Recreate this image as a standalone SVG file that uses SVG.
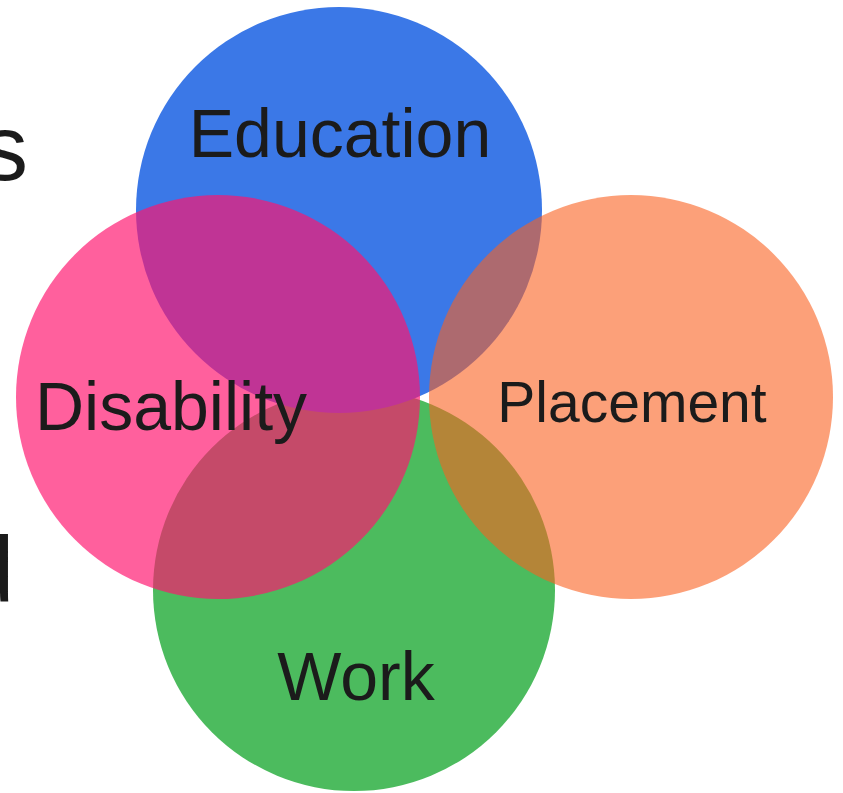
<svg xmlns="http://www.w3.org/2000/svg" width="843" height="793" viewBox="0 0 843 793">
  <style>
    .lbl { font-family: "Liberation Sans", Arial, sans-serif; fill: #1b1b1b; text-anchor: middle; }
    .big { font-size: 68px; }
    .mid { font-size: 57px; }
    .cut { font-family: "Liberation Sans", Arial, sans-serif; fill: #1b1b1b; font-size: 92px; }
  </style>
  <rect width="843" height="793" fill="#ffffff"/>
  <g id="edge-text">
    <text class="cut" x="-18" y="180">s</text>
    <text class="cut" x="-37" y="601">d</text>
  </g>
  <g id="work">
    <circle cx="354" cy="590" r="201" fill="#4cbb5e"/>
    <text class="lbl big" x="356" y="700">Work</text>
  </g>
  <g id="education">
    <circle cx="339" cy="210" r="203" fill="#3b78e7"/>
    <text class="lbl big" x="340" y="157">Education</text>
  </g>
  <g id="disability">
    <circle cx="218" cy="397" r="202" fill="#ff146f" fill-opacity="0.68"/>
    <text class="lbl big" x="171" y="430">Disability</text>
  </g>
  <g id="placement">
    <circle cx="631" cy="397" r="202" fill="#fa6120" fill-opacity="0.6"/>
    <text class="lbl mid" x="632" y="422">Placement</text>
  </g>
  <g id="connectors"></g>
</svg>
